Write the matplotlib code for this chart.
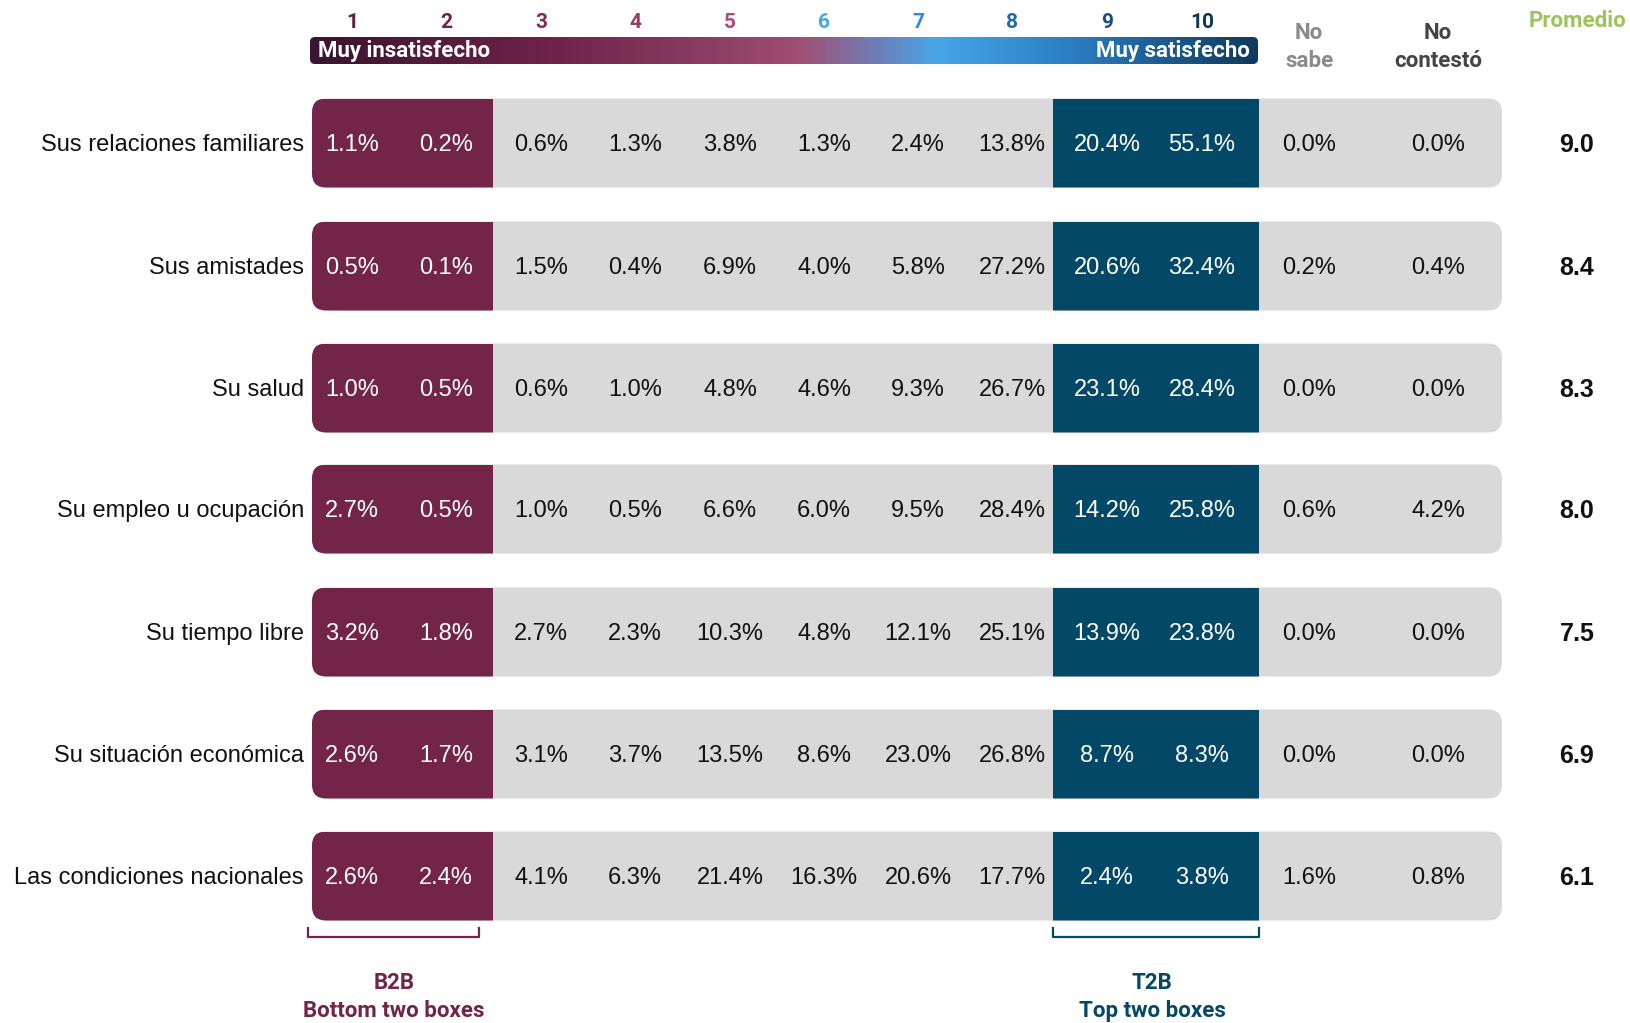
import numpy as np
import matplotlib
matplotlib.use("Agg")
import matplotlib.pyplot as plt
from matplotlib.patches import FancyBboxPatch, Rectangle
from matplotlib.colors import LinearSegmentedColormap

# data
items = ["Sus relaciones familiares", "Sus amistades", "Su salud", "Su empleo u ocupación",
         "Su tiempo libre", "Su situación económica", "Las condiciones nacionales"]
scale = ["1", "2", "3", "4", "5", "6", "7", "8", "9", "10"]
familiares = [1.1, 0.2, 0.6, 1.3, 3.8, 1.3, 2.4, 13.8, 20.4, 55.1, 0.0, 0.0]
amistades = [0.5, 0.1, 1.5, 0.4, 6.9, 4.0, 5.8, 27.2, 20.6, 32.4, 0.2, 0.4]
salud = [1.0, 0.5, 0.6, 1.0, 4.8, 4.6, 9.3, 26.7, 23.1, 28.4, 0.0, 0.0]
empleo = [2.7, 0.5, 1.0, 0.5, 6.6, 6.0, 9.5, 28.4, 14.2, 25.8, 0.6, 4.2]
tiempo = [3.2, 1.8, 2.7, 2.3, 10.3, 4.8, 12.1, 25.1, 13.9, 23.8, 0.0, 0.0]
economica = [2.6, 1.7, 3.1, 3.7, 13.5, 8.6, 23.0, 26.8, 8.7, 8.3, 0.0, 0.0]
nacionales = [2.6, 2.4, 4.1, 6.3, 21.4, 16.3, 20.6, 17.7, 2.4, 3.8, 1.6, 0.8]
promedio = [9.0, 8.4, 8.3, 8.0, 7.5, 6.9, 6.1]
table = [familiares, amistades, salud, empleo, tiempo, economica, nacionales]

# layout (pixel coords)
W, H = 1630, 1023
col_x = [352, 446, 541, 635, 730, 824, 918, 1012, 1107, 1202, 1309, 1438]
row_y = [143, 266, 388, 509, 632, 754, 876]
bar_h = 89
x0, x_b2b, x_t2b0, x_t2b1, x1 = 312, 493, 1053, 1259, 1502
prom_x = 1577

purple = "#722449"
blue = "#034866"
grey = "#d9d9d9"
num_colors = ["#5e1c3e", "#6e2249", "#85295a", "#973a6a", "#a84a7a",
              "#45a6e6", "#2e8ad4", "#1e6bb0", "#174f82", "#0d3658"]

head = ["Roboto", "Liberation Sans", "DejaVu Sans"]
sans = ["Liberation Sans", "DejaVu Sans"]

fig = plt.figure(figsize=(W / 100, H / 100), dpi=100)
ax = fig.add_axes([0, 0, 1, 1])
ax.set_xlim(0, W)
ax.set_ylim(H, 0)
ax.axis("off")

for i, (name, vals) in enumerate(zip(items, table)):
    y = row_y[i]
    top = y - bar_h / 2
    box = FancyBboxPatch((x0, top), x1 - x0, bar_h,
                         boxstyle="round,pad=0,rounding_size=14",
                         fc=grey, ec="none", zorder=1)
    ax.add_patch(box)
    left = Rectangle((x0, top), x_b2b - x0, bar_h, fc=purple, ec="none", zorder=2)
    ax.add_patch(left)
    left.set_clip_path(box)
    right = Rectangle((x_t2b0, top), x_t2b1 - x_t2b0, bar_h, fc=blue, ec="none", zorder=2)
    ax.add_patch(right)
    right.set_clip_path(box)
    ax.text(x0 - 8, y + 2, name, ha="right", va="center", fontsize=17, family=sans,
            color="#111111")
    for j, v in enumerate(vals):
        c = "white" if j in (0, 1, 8, 9) else "#111111"
        ax.text(col_x[j], y + 2, f"{v:.1f}%", ha="center", va="center", fontsize=17,
                family=sans, color=c, zorder=3)
    ax.text(prom_x, y + 2, f"{promedio[i]:.1f}", ha="center", va="center", fontsize=18,
            family=sans, weight="bold", color="#111111")

# gradient header bar
cmap = LinearSegmentedColormap.from_list("sat", [
    (0.0, "#3a1430"), (0.25, "#6e2249"), (0.5, "#9c4a72"), (0.52, "#a05075"),
    (0.6, "#6d80b8"), (0.66, "#48a6e8"), (0.8, "#2b7fc4"), (1.0, "#0f3a5e")])
gx0, gx1, gy0, gy1 = 310, 1258, 37, 64
grad = np.linspace(0, 1, 512).reshape(1, -1)
im = ax.imshow(grad, cmap=cmap, extent=(gx0, gx1, gy1, gy0), aspect="auto", zorder=2)
clip = FancyBboxPatch((gx0, gy0), gx1 - gx0, gy1 - gy0,
                      boxstyle="round,pad=0,rounding_size=5", fc="none", ec="none")
ax.add_patch(clip)
im.set_clip_path(clip)
ax.text(gx0 + 8, (gy0 + gy1) / 2 + 1, "Muy insatisfecho", ha="left", va="center",
        fontsize=16, family=head, weight="bold", color="white", zorder=3)
ax.text(gx1 - 8, (gy0 + gy1) / 2 + 1, "Muy satisfecho", ha="right", va="center",
        fontsize=16, family=head, weight="bold", color="white", zorder=3)
for j, s in enumerate(scale):
    ax.text(col_x[j], 22, s, ha="center", va="center", fontsize=15, family=head,
            weight="bold", color=num_colors[j])
ax.text(col_x[10], 47, "No\nsabe", ha="center", va="center", fontsize=16, family=head,
        weight="bold", color="#8a8a8a", linespacing=1.35)
ax.text(col_x[11], 47, "No\ncontestó", ha="center", va="center", fontsize=16, family=head,
        weight="bold", color="#444444", linespacing=1.35)
ax.text(prom_x, 21, "Promedio", ha="center", va="center", fontsize=16, family=head,
        weight="bold", color="#9dc35a")

# brackets
for bx0, bx1, c in [(308, 479, purple), (1053, 1259, blue)]:
    ax.plot([bx0, bx0, bx1, bx1], [928, 937, 937, 928], color=c, lw=1.6,
            solid_joinstyle="round")
ax.text(394, 983, "B2B", ha="center", va="center", fontsize=16, family=head,
        weight="bold", color=purple)
ax.text(394, 1011, "Bottom two boxes", ha="center", va="center", fontsize=16,
        family=head, weight="bold", color=purple)
ax.text(1152, 983, "T2B", ha="center", va="center", fontsize=16, family=head,
        weight="bold", color=blue)
ax.text(1152, 1011, "Top two boxes", ha="center", va="center", fontsize=16,
        family=head, weight="bold", color=blue)

fig.savefig("out.png", dpi=100)
